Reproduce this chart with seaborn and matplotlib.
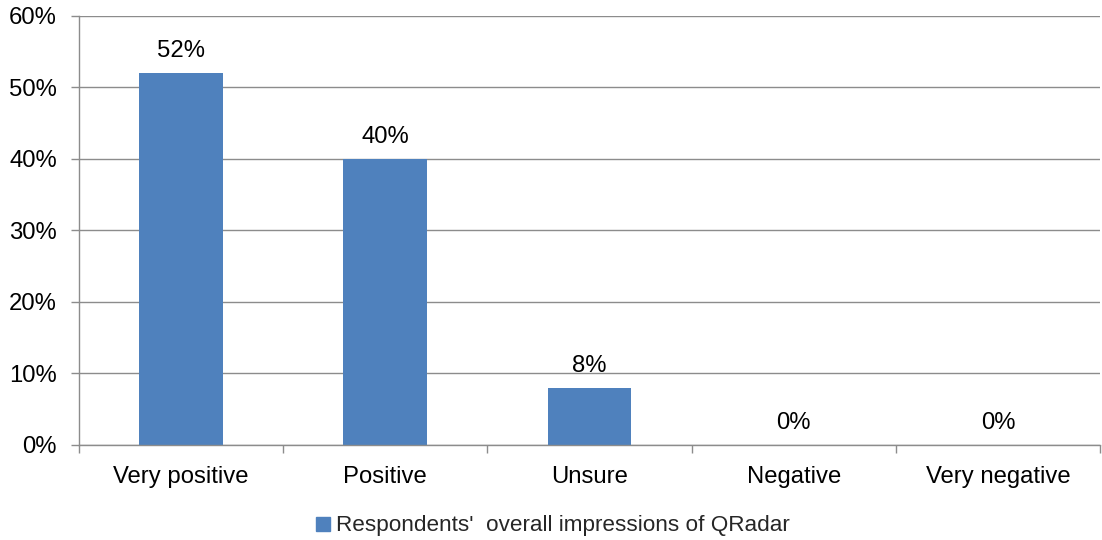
import matplotlib
matplotlib.use("Agg")
import matplotlib.pyplot as plt
import seaborn as sns
import pandas as pd
from matplotlib.lines import Line2D
from matplotlib.ticker import FixedLocator, PercentFormatter

categories = ["Very positive", "Positive", "Unsure", "Negative", "Very negative"]
shares = [52, 40, 8, 0, 0]
series_name = "Respondents'  overall impressions of QRadar"
y_ticks = [0, 10, 20, 30, 40, 50, 60]

sns.set_theme(style="white")
plt.rcParams["font.family"] = ["Liberation Sans", "DejaVu Sans"]

bar_color = "#4F81BD"
grid_color = "#8C8C8C"
fs = 17.2

df = pd.DataFrame({"category": categories, "share": shares})

fig = plt.figure(figsize=(11.02, 5.4), dpi=100)
ax = fig.add_axes([0.0717, 0.176, 0.9265, 0.7944])

sns.barplot(data=df, x="category", y="share", color=bar_color, width=0.41,
            saturation=1, linewidth=0, edgecolor="none", ax=ax)

ax.set_xlim(-0.5, len(categories) - 0.5)
ax.set_ylim(0, 60)
ax.set_yticks(y_ticks)
ax.yaxis.set_major_formatter(PercentFormatter(decimals=0))
ax.set_xlabel("")
ax.set_ylabel("")

ax.yaxis.grid(True, color=grid_color, linewidth=1.0)
ax.set_axisbelow(True)
for side in ["top", "right"]:
    ax.spines[side].set_visible(False)
for side in ["left", "bottom"]:
    ax.spines[side].set_color(grid_color)
    ax.spines[side].set_linewidth(1.0)

ax.tick_params(axis="y", which="major", left=True, length=6, width=1,
               color=grid_color, labelsize=fs, pad=10, labelcolor="black")
# Category boundaries carry the x tick marks, labels sit at centers
ax.tick_params(axis="x", which="major", bottom=False, labelsize=fs,
               pad=9, labelcolor="black")
ax.xaxis.set_minor_locator(FixedLocator([i - 0.5 for i in range(len(categories) + 1)]))
ax.tick_params(axis="x", which="minor", bottom=True, length=6, width=1,
               color=grid_color)

for container in ax.containers:
    ax.bar_label(container, labels=[f"{v:g}%" for v in shares], padding=8,
                 fontsize=fs, color="black")

handle = Line2D([], [], marker="s", linestyle="none", markersize=9.5,
                markerfacecolor=bar_color, markeredgecolor=bar_color)
fig.legend([handle], [series_name], loc="center", bbox_to_anchor=(0.5, 0.026),
           frameon=False, fontsize=16.2, handletextpad=0.1, handlelength=1.0)

fig.savefig("out.png", dpi=100)
